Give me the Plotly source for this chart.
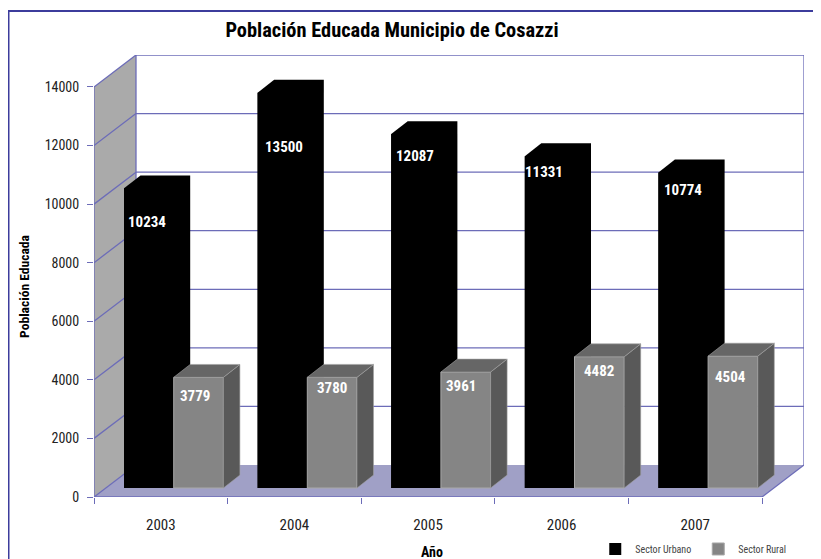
import plotly.graph_objects as go

# values
years = ["2003", "2004", "2005", "2006", "2007"]
urbano = [10234, 13500, 12087, 11331, 10774]
rural = [3779, 3780, 3961, 4482, 4504]
y_ticks = [0, 2000, 4000, 6000, 8000, 10000, 12000, 14000]

# fake 3D projection, in axis units
WALL_DX = 0.3144      # depth of the floor, x
WALL_DY = 1092        # depth of the floor, y
FLOOR_X = 0.2246      # bars stand this far in from the front edge
FLOOR_Y = 307
BAR_W = 0.372
BAR_DX = 0.1235       # depth of one bar
BAR_DY = 440
N = len(years)
Y_MAX = 14000

# label nudges in px, (right, down from bar top)
urbano_nudge = [(-2, 34), (2, 54), (-1, 22), (-6, 16), (0, 18)]
rural_nudge = [(-4, 19), (0, 11), (-5, 14), (0, 14), (-2, 21)]

FONT = "Roboto Condensed, Lato, sans-serif"
LINE = "#6c6cb8"
FRAME = "#3c3c9c"

# page has an 8px body margin, so the figure is 8px smaller than the window
FIG_W, FIG_H = 813, 551
M_L, M_R, M_T, M_B = 86, 17, 47, 62
PLOT_W = FIG_W - M_L - M_R
PLOT_H = FIG_H - M_T - M_B


def poly(points, fill, **kw):
    path = "M " + " L ".join(f"{x},{y}" for x, y in points) + " Z"
    return dict(type="path", path=path, fillcolor=fill, line=dict(width=0),
                layer="between", xref="x", yref="y", **kw)


def seg(x0, y0, x1, y1, color=LINE, width=1.3):
    return dict(type="line", x0=x0, y0=y0, x1=x1, y1=y1, xref="x", yref="y",
                layer="between", line=dict(color=color, width=width))


shapes = []
# side wall and floor
shapes.append(poly([(0, 0), (WALL_DX, WALL_DY), (WALL_DX, Y_MAX + WALL_DY), (0, Y_MAX)], "#aaaaaa"))
shapes.append(poly([(0, 0), (WALL_DX, WALL_DY), (N + WALL_DX, WALL_DY), (N, 0)], "#a0a0c6"))

# gridlines on the walls
for t in y_ticks:
    shapes.append(seg(0, t, WALL_DX, t + WALL_DY))
    if t > 0:
        shapes.append(seg(WALL_DX, t + WALL_DY, N + WALL_DX, t + WALL_DY))
shapes.append(seg(WALL_DX, WALL_DY, WALL_DX, Y_MAX + WALL_DY))
shapes.append(seg(N + WALL_DX, WALL_DY, N + WALL_DX, Y_MAX + WALL_DY))
shapes.append(seg(0, 0, 0, Y_MAX))
shapes.append(seg(0, 0, N, 0))
shapes.append(seg(N, 0, N + WALL_DX, WALL_DY))

# black bars have no visible faces, one outline covers top and side,
# and it goes under the front faces of the grey ones
for i, v in enumerate(urbano):
    x0 = i + FLOOR_X
    x1 = x0 + BAR_W
    y1 = v + FLOOR_Y
    shapes.append(poly([(x0, FLOOR_Y), (x0, y1), (x0 + BAR_DX, y1 + BAR_DY), (x1 + BAR_DX, y1 + BAR_DY),
                        (x1 + BAR_DX, FLOOR_Y + BAR_DY), (x1, FLOOR_Y)], "#000000"))

fig = go.Figure()

fig.add_trace(go.Bar(
    x=[i + FLOOR_X + BAR_W / 2 for i in range(N)], y=urbano, base=FLOOR_Y, width=BAR_W,
    name="Sector Urbano", marker=dict(color="#000000", line=dict(width=0)),
    hoverinfo="skip",
))
fig.add_trace(go.Bar(
    x=[i + FLOOR_X + BAR_W * 1.5 for i in range(N)], y=rural, base=FLOOR_Y, width=BAR_W,
    name="Sector Rural", marker=dict(color="#858585", line=dict(color="#a8a8a8", width=1)),
    hoverinfo="skip",
))

# grey bar side and top, drawn over the bars
for i, v in enumerate(rural):
    x1 = i + FLOOR_X + 2 * BAR_W
    x0 = x1 - BAR_W
    y1 = v + FLOOR_Y
    fig.add_trace(go.Scatter(
        x=[x1, x1 + BAR_DX, x1 + BAR_DX, x1, x1], y=[FLOOR_Y, FLOOR_Y + BAR_DY, y1 + BAR_DY, y1, FLOOR_Y],
        mode="lines", fill="toself", fillcolor="#595959", line=dict(color="#a0a0a0", width=0.6),
        showlegend=False, hoverinfo="skip",
    ))
    fig.add_trace(go.Scatter(
        x=[x0, x1, x1 + BAR_DX, x0 + BAR_DX, x0], y=[y1, y1, y1 + BAR_DY, y1 + BAR_DY, y1],
        mode="lines", fill="toself", fillcolor="#666666", line=dict(color="#a0a0a0", width=0.6),
        showlegend=False, hoverinfo="skip",
    ))

annotations = []
for i, v in enumerate(urbano):
    annotations.append(dict(
        x=i + FLOOR_X + BAR_W / 2, y=v + FLOOR_Y, text=f"<b>{v}</b>", showarrow=False,
        xshift=urbano_nudge[i][0], yshift=-urbano_nudge[i][1],
        font=dict(family=FONT, size=15, color="white"),
    ))
for i, v in enumerate(rural):
    annotations.append(dict(
        x=i + FLOOR_X + BAR_W * 1.5, y=v + FLOOR_Y, text=f"<b>{v}</b>", showarrow=False,
        xshift=rural_nudge[i][0], yshift=-rural_nudge[i][1],
        font=dict(family=FONT, size=15, color="white"),
    ))

# axis titles sit off the plot centre because of the floor depth, so they are annotations
annotations.append(dict(
    x=(432 - 8 - M_L) / PLOT_W, y=1 - (544 - M_T) / PLOT_H, xref="paper", yref="paper",
    xanchor="center", yanchor="middle",
    text="<b>Año</b>", showarrow=False, font=dict(family=FONT, size=14, color="black"),
))
annotations.append(dict(
    x=(24 - 8 - M_L) / PLOT_W, y=1 - (279 - M_T) / PLOT_H, xref="paper", yref="paper",
    xanchor="center", yanchor="middle",
    text="<b>Población Educada</b>", textangle=-90, showarrow=False,
    font=dict(family=FONT, size=13.6, color="black"),
))

fig.update_layout(
    width=FIG_W, height=FIG_H,
    margin=dict(l=M_L, r=M_R, t=M_T, b=M_B, autoexpand=False),
    paper_bgcolor="white", plot_bgcolor="white",
    barmode="overlay",
    shapes=shapes,
    annotations=annotations,
    title=dict(text="<b>Población Educada Municipio de Cosazzi</b>", x=384 / FIG_W, xanchor="center",
               y=1 - 22 / FIG_H, yanchor="middle", font=dict(family=FONT, size=20.4, color="black")),
    legend=dict(orientation="h", x=0.706, xanchor="left", y=-0.1176, yanchor="middle",
                entrywidth=58, entrywidthmode="pixels",
                font=dict(family=FONT, size=10, color="#444444"), bgcolor="rgba(0,0,0,0)"),
    xaxis=dict(
        range=[0, N + WALL_DX], tickmode="array", tickvals=[i + 0.5 for i in range(N)], ticktext=years,
        ticks="", ticklabelstandoff=17, showgrid=False, zeroline=False, showline=False,
        tickfont=dict(family=FONT, size=15, color="#222222"),
        minor=dict(tickmode="array", tickvals=list(range(N + 1)), ticks="outside", ticklen=6,
                   tickcolor=LINE, showgrid=False),
    ),
    yaxis=dict(
        range=[0, Y_MAX + WALL_DY], tickmode="array", tickvals=y_ticks, ticktext=[str(t) for t in y_ticks],
        ticks="outside", ticklen=6, tickcolor=LINE, ticklabelstandoff=5,
        showgrid=False, zeroline=False, showline=False,
        tickfont=dict(family=FONT, size=14, color="#222222"),
    ),
)

# outer frame: left edge, top edge
frame_l = (0.5 - M_L) / PLOT_W
frame_t = 1 + (M_T - 3) / PLOT_H
frame_b = 1 - (FIG_H - M_T) / PLOT_H
fig.add_shape(type="path", xref="paper", yref="paper", layer="above",
              path=f"M {frame_l},{frame_b} L {frame_l},{frame_t} L {(FIG_W - M_L) / PLOT_W},{frame_t}",
              line=dict(color=FRAME, width=2))

fig.write_html("out.html")
